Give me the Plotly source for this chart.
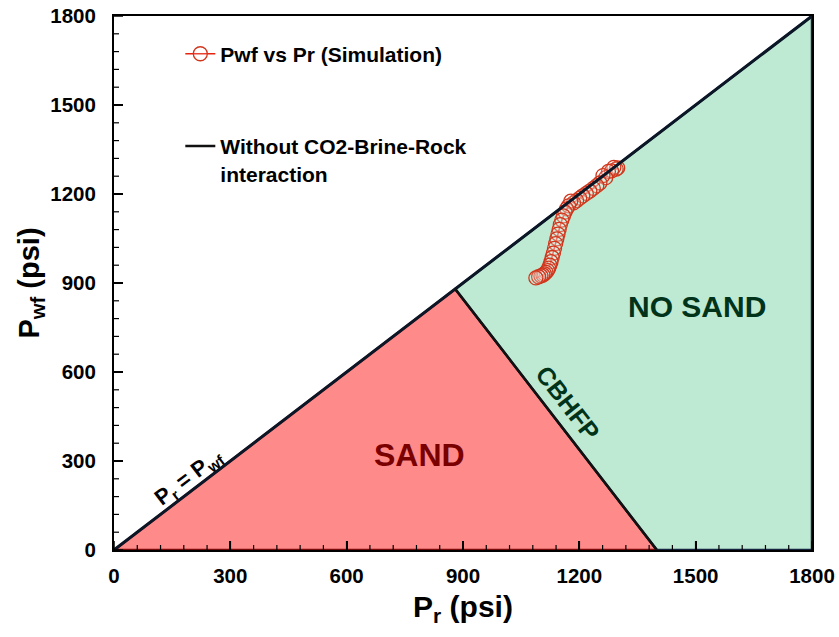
import plotly.graph_objects as go

# Simulated bottom-hole flowing pressure vs reservoir pressure (psi)
pr_sim = [1299, 1295, 1289, 1283, 1275, 1268, 1261, 1253, 1245, 1236, 1227, 1218,
          1209, 1201, 1193, 1185, 1178, 1172, 1167, 1163, 1159, 1155, 1151, 1148,
          1145, 1142, 1139, 1136, 1133, 1130, 1127, 1124, 1121, 1118, 1114, 1110,
          1106, 1101, 1095, 1088]
pwf_sim = [1288, 1284, 1290, 1278, 1276, 1255, 1262, 1237, 1228, 1219, 1210, 1202,
           1194, 1186, 1178, 1170, 1176, 1160, 1150, 1139, 1126, 1112, 1097, 1081,
           1065, 1049, 1033, 1017, 1001, 986, 972, 960, 950, 942, 936, 931,
           927, 924, 921, 917]

# Region boundaries (psi)
pr_equal = [0, 1800]                 # Pr = Pwf line
pwf_equal = [0, 1800]
pr_cbhfp = [880, 1400]               # critical bottom-hole flowing pressure line
pwf_cbhfp = [880, 0]
pr_sand = [0, 880, 1400, 0]
pwf_sand = [0, 880, 0, 0]
pr_nosand = [880, 1800, 1800, 1400, 880]
pwf_nosand = [880, 1800, 0, 0, 880]

tick_vals = [0, 300, 600, 900, 1200, 1500, 1800]
minor_step = 60

FONT = "Liberation Sans, Arial, sans-serif"

fig = go.Figure()

# Filled regions
fig.add_trace(go.Scatter(x=pr_sand, y=pwf_sand, mode="lines", fill="toself",
                         fillcolor="#FF8A8A", line=dict(color="#7A0A0A", width=2.5),
                         hoverinfo="skip", showlegend=False))
fig.add_trace(go.Scatter(x=pr_nosand, y=pwf_nosand, mode="lines", fill="toself",
                         fillcolor="#BEEAD3", line=dict(color="#14233F", width=2.5),
                         hoverinfo="skip", showlegend=False))

# Simulation points
fig.add_trace(go.Scatter(x=pr_sim, y=pwf_sim, mode="lines+markers",
                         name="Pwf vs Pr (Simulation)", legendgroup="sim",
                         line=dict(color="#E8230F", width=1.5),
                         marker=dict(symbol="circle", size=14,
                                     color="rgba(255,255,255,0.15)",
                                     line=dict(color="#D0361C", width=1.3))))

# Boundary lines
fig.add_trace(go.Scatter(x=pr_equal, y=pwf_equal, mode="lines",
                         line=dict(color="#0B1626", width=3),
                         hoverinfo="skip", showlegend=False))
fig.add_trace(go.Scatter(x=pr_cbhfp, y=pwf_cbhfp, mode="lines",
                         name="Without CO2-Brine-Rock<br>interaction",
                         legendgroup="base",
                         line=dict(color="#111111", width=2.5)))

# Region labels
fig.add_annotation(x=789, y=320, text="<b>SAND</b>", showarrow=False,
                   font=dict(family=FONT, size=32, color="#7A0000"))
fig.add_annotation(x=1503, y=822, text="<b>NO SAND</b>", showarrow=False,
                   font=dict(family=FONT, size=30, color="#00331A"))
fig.add_annotation(x=1171, y=496, text="<b>CBHFP</b>", showarrow=False,
                   textangle=52,
                   font=dict(family=FONT, size=25, color="#00331A"))
fig.add_annotation(x=193, y=243, text="<b>P<sub>r</sub> = P<sub>wf</sub></b>",
                   showarrow=False, textangle=-37.4,
                   font=dict(family=FONT, size=22, color="black"))

# Inward tick marks, anchored at the axis values with pixel lengths
minor_vals = [v for v in range(0, tick_vals[-1] + 1, minor_step) if v not in tick_vals]
for vals, length, width in ((tick_vals, 9, 1.5), (minor_vals, 5, 1.2)):
    for v in vals:
        fig.add_shape(type="line", xref="x", yref="y", x0=v, x1=v,
                      ysizemode="pixel", yanchor=0, y0=0, y1=length,
                      line=dict(color="black", width=width))
        fig.add_shape(type="line", xref="x", yref="y", y0=v, y1=v,
                      xsizemode="pixel", xanchor=0, x0=0, x1=length,
                      line=dict(color="black", width=width))

fig.update_xaxes(range=[0, 1800], tickvals=tick_vals,
                 ticktext=[f"<b>{v}</b>" for v in tick_vals],
                 tickfont=dict(family=FONT, size=20.5, color="black"),
                 ticks="inside", ticklen=9, tickwidth=1.5, tickcolor="black",
                 showline=True, linecolor="black", linewidth=2, zeroline=False,
                 mirror=True, showgrid=False, automargin=False,
                 ticklabelstandoff=6,
                 title=dict(text="<b>P<sub>r</sub> (psi)</b>", standoff=10,
                            font=dict(family=FONT, size=30, color="black")))
fig.update_yaxes(range=[0, 1800], tickvals=tick_vals,
                 ticktext=[f"<b>{v}</b>" for v in tick_vals],
                 tickfont=dict(family=FONT, size=20.5, color="black"),
                 ticks="inside", ticklen=9, tickwidth=1.5, tickcolor="black",
                 showline=True, linecolor="black", linewidth=2, zeroline=False,
                 mirror=True, showgrid=False, automargin=False,
                 ticklabelstandoff=12,
                 title=dict(text="<b>P<sub>wf</sub> (psi)</b>", standoff=2,
                            font=dict(family=FONT, size=29, color="black")))

fig.update_layout(
    width=839, height=637,
    margin=dict(l=114, r=27, t=16, b=87),
    plot_bgcolor="white",
    legend=dict(x=0.095, y=0.967, xanchor="left", yanchor="top",
                bgcolor="rgba(0,0,0,0)", tracegroupgap=62, valign="top",
                font=dict(family=FONT, size=21, color="black", weight="bold")),
)

fig.write_html("out.html")
